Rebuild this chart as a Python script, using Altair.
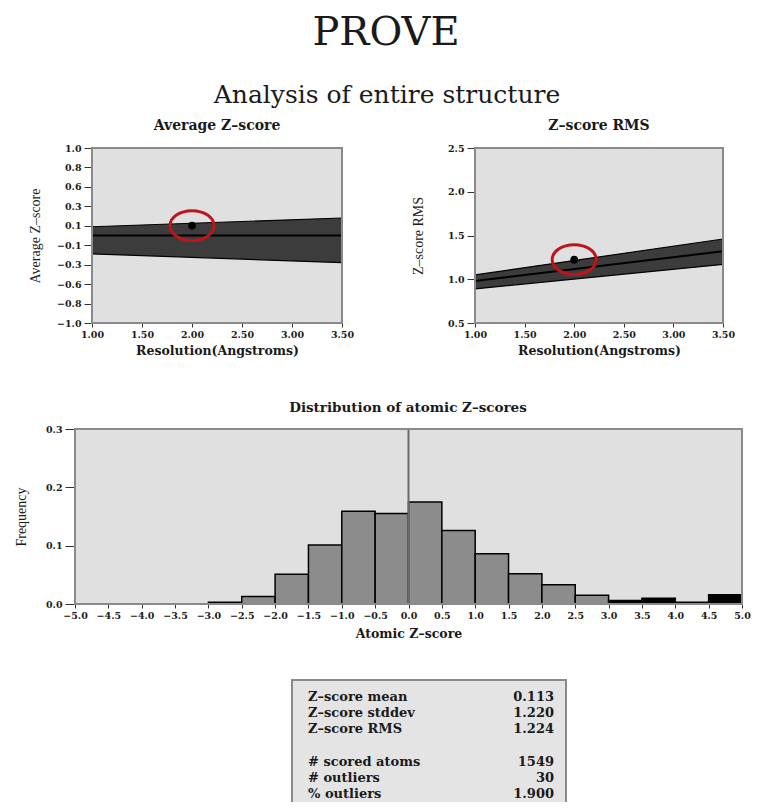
import altair as alt
import pandas as pd

FONT = "DejaVu Serif"
YFONT = "Liberation Serif"
W, H = 756, 794
BG = "#e0e0e0"
FRAME = "#8a8a8a"
BAND = "#3c3c3c"
INK = "#1a1a1a"
RED = "#c0141c"

# ---------------- data ----------------
res_ends = [1.0, 3.5]
avg_lower = [-0.21, -0.31]
avg_center = [0.0, 0.0]
avg_upper = [0.10, 0.20]
rms_lower = [0.89, 1.17]
rms_center = [0.98, 1.32]
rms_upper = [1.05, 1.46]
struct_res = [2.0]
struct_avg = [0.113]
struct_rms = [1.224]

res_ticks = [1.0, 1.5, 2.0, 2.5, 3.0, 3.5]
avg_ticks = [-1.0, -0.7778, -0.5556, -0.3333, -0.1111, 0.1111, 0.3333, 0.5556, 0.7778, 1.0]
rms_ticks = [0.5, 1.0, 1.5, 2.0, 2.5]

bin_starts = [-5.0, -4.5, -4.0, -3.5, -3.0, -2.5, -2.0, -1.5, -1.0, -0.5,
              0.0, 0.5, 1.0, 1.5, 2.0, 2.5, 3.0, 3.5, 4.0, 4.5]
bin_freqs = [0.0, 0.0, 0.0, 0.0, 0.003, 0.013, 0.051, 0.101, 0.159, 0.155,
             0.175, 0.126, 0.086, 0.052, 0.033, 0.015, 0.006, 0.010, 0.003, 0.016]
hist_ticks = [-5.0, -4.5, -4.0, -3.5, -3.0, -2.5, -2.0, -1.5, -1.0, -0.5, 0.0,
              0.5, 1.0, 1.5, 2.0, 2.5, 3.0, 3.5, 4.0, 4.5, 5.0]
freq_ticks = [0.0, 0.1, 0.2, 0.3]

stat_labels = ["Z–score mean", "Z–score stddev", "Z–score RMS", "",
               "# scored atoms", "# outliers", "% outliers"]
stat_values = ["0.113", "1.220", "1.224", "", "1549", "30", "1.900"]

ELLIPSE = ("M1,0 C1,0.3756 0.5523,0.68 0,0.68 C-0.5523,0.68 -1,0.3756 -1,0 "
           "C-1,-0.3756 -0.5523,-0.68 0,-0.68 C0.5523,-0.68 1,-0.3756 1,0 Z")


def make_axis(orient, offset, values, fmt, title, tfont, tsize, tweight, tick, lpad, tpad):
    return alt.Axis(orient=orient, offset=offset, values=values, format=fmt, title=title,
                    grid=False, domain=False, labelFlush=False, labelOverlap=False,
                    labelFont=FONT, labelFontSize=9.5, labelFontWeight="bold",
                    labelColor=INK,
                    tickColor="#333333", tickSize=tick, tickWidth=1, labelPadding=lpad,
                    titleFont=tfont, titleFontSize=tsize, titleFontWeight=tweight,
                    titleColor=INK, titlePadding=tpad)


def title_text(txt, x, y, size, weight):
    return alt.Chart(pd.DataFrame({"t": [txt]})).mark_text(
        font=FONT, fontSize=size, fontWeight=weight, color=INK,
        align="center", baseline="alphabetic").encode(
        text="t:N", x=alt.value(x), y=alt.value(y))


all_layers = []


def trend_panel(px, py, y_dom, y_ticks, y_title, y_tpad, lo, mid, hi, struct_y,
                title, title_x):
    xs = alt.Scale(domain=[res_ticks[0], res_ticks[-1]], range=px, nice=False, zero=False)
    ys = alt.Scale(domain=y_dom, range=[py[1], py[0]], nice=False, zero=False)
    frame_df = pd.DataFrame({"x0": [res_ticks[0]], "x1": [res_ticks[-1]],
                             "y0": [y_dom[0]], "y1": [y_dom[1]]})
    band_df = pd.DataFrame({"res": res_ends, "lo": lo, "mid": mid, "hi": hi})
    pt_df = pd.DataFrame({"res": struct_res, "z": struct_y})

    bg = alt.Chart(frame_df).mark_rect(fill=BG).encode(
        x=alt.X("x0:Q", scale=xs,
                axis=make_axis("bottom", py[1] - H, res_ticks, ".2f",
                               "Resolution(Angstroms)", FONT, 12.5, "bold", 4, 2, 6)),
        x2="x1:Q",
        y=alt.Y("y0:Q", scale=ys,
                axis=make_axis("left", -px[0], y_ticks, ".1f", y_title, YFONT, 14,
                               "normal", 8, 3, y_tpad)),
        y2="y1:Q")
    band = alt.Chart(band_df).mark_area(color=BAND, opacity=1).encode(
        x=alt.X("res:Q", scale=xs, axis=None),
        y=alt.Y("lo:Q", scale=ys, axis=None), y2="hi:Q")
    layers = [bg, band]
    for col, w in [("lo", 1.2), ("hi", 1.2), ("mid", 2)]:
        layers.append(alt.Chart(band_df).mark_line(color="#000000", strokeWidth=w).encode(
            x=alt.X("res:Q", scale=xs, axis=None),
            y=alt.Y(f"{col}:Q", scale=ys, axis=None)))
    frame = alt.Chart(frame_df).mark_rect(fillOpacity=0, stroke=FRAME, strokeWidth=2).encode(
        x=alt.X("x0:Q", scale=xs, axis=None), x2="x1:Q",
        y=alt.Y("y0:Q", scale=ys, axis=None), y2="y1:Q")
    dot = alt.Chart(pt_df).mark_circle(size=60, color="#000000", opacity=1).encode(
        x=alt.X("res:Q", scale=xs, axis=None), y=alt.Y("z:Q", scale=ys, axis=None))
    ring = alt.Chart(pt_df).mark_point(shape=ELLIPSE, size=1936, filled=False, color=RED,
                                       strokeWidth=3, opacity=1).encode(
        x=alt.X("res:Q", scale=xs, axis=None), y=alt.Y("z:Q", scale=ys, axis=None))
    layers += [frame, dot, ring, title_text(title, title_x, py[0] - 18, 14, "bold")]
    all_layers.extend(layers)


trend_panel([84, 334], [140, 315], [-1.0, 1.0], avg_ticks, "Average Z–score", 14,
            avg_lower, avg_center, avg_upper, struct_avg, "Average Z–score", 209)
trend_panel([467, 715], [140, 315], [0.5, 2.5], rms_ticks, "Z–score RMS", 22,
            rms_lower, rms_center, rms_upper, struct_rms, "Z–score RMS", 591)

# ---------------- histogram ----------------
hx = alt.Scale(domain=[hist_ticks[0], hist_ticks[-1]], range=[67, 734], nice=False, zero=False)
hy = alt.Scale(domain=[freq_ticks[0], freq_ticks[-1]], range=[596, 421], nice=False, zero=False)
hist_df = pd.DataFrame({"start": bin_starts, "freq": bin_freqs})
hframe_df = pd.DataFrame({"x0": [hist_ticks[0]], "x1": [hist_ticks[-1]],
                          "y0": [freq_ticks[0]], "y1": [freq_ticks[-1]]})

h_bg = alt.Chart(hframe_df).mark_rect(fill=BG).encode(
    x=alt.X("x0:Q", scale=hx,
            axis=make_axis("bottom", 596 - H, hist_ticks, ".1f", "Atomic Z–score",
                           FONT, 12.5, "bold", 4, 2, 8)),
    x2="x1:Q",
    y=alt.Y("y0:Q", scale=hy,
            axis=make_axis("left", -67, freq_ticks, ".1f", "Frequency", YFONT, 14,
                           "normal", 10, 3, 17)),
    y2="y1:Q")
h_bars = alt.Chart(hist_df).transform_filter("datum.freq > 0").transform_calculate(
    end="datum.start + 0.5",
    kind="abs(datum.start + 0.25) > 3 ? 'outlier' : 'normal'").mark_rect(
    stroke="#000000", strokeWidth=1.5).encode(
    x=alt.X("start:Q", scale=hx, axis=None), x2="end:Q",
    y=alt.Y("freq:Q", scale=hy, axis=None), y2=alt.datum(0),
    color=alt.Color("kind:N", scale=alt.Scale(domain=["normal", "outlier"],
                                              range=["#8c8c8c", "#000000"]), legend=None))
h_zero = alt.Chart(hframe_df).transform_calculate(zero="0").mark_rule(
    color="#6a6a6a", strokeWidth=2).encode(
    x=alt.X("zero:Q", scale=hx, axis=None),
    y=alt.Y("y0:Q", scale=hy, axis=None), y2="y1:Q")
h_frame = alt.Chart(hframe_df).mark_rect(fillOpacity=0, stroke=FRAME, strokeWidth=2).encode(
    x=alt.X("x0:Q", scale=hx, axis=None), x2="x1:Q",
    y=alt.Y("y0:Q", scale=hy, axis=None), y2="y1:Q")
all_layers += [h_bg, h_bars, h_zero, h_frame,
               title_text("Distribution of atomic Z–scores", 400, 404, 13.5, "bold")]

# ---------------- statistics table ----------------
stats_df = pd.DataFrame({"row": list(range(len(stat_labels))),
                         "label": stat_labels, "value": stat_values})
ty = alt.Scale(domain=[0, len(stat_labels) - 1], range=[689, 786], nice=False, zero=False)
box = alt.Chart(pd.DataFrame({"a": [0]})).mark_rect(
    fill="#e4e4e4", stroke=FRAME, strokeWidth=2).encode(
    x=alt.value(284), x2=alt.value(558), y=alt.value(672), y2=alt.value(H + 20))
tab_labels = alt.Chart(stats_df).mark_text(
    align="left", baseline="middle", font=FONT, fontSize=13, fontWeight="bold",
    color=INK).encode(x=alt.value(300), y=alt.Y("row:Q", scale=ty, axis=None), text="label:N")
tab_values = alt.Chart(stats_df).mark_text(
    align="right", baseline="middle", font=FONT, fontSize=13, fontWeight="bold",
    color=INK).encode(x=alt.value(546), y=alt.Y("row:Q", scale=ty, axis=None), text="value:N")
all_layers += [box, tab_labels, tab_values]

all_layers += [title_text("PROVE", 378, 37, 40, "normal"),
               title_text("Analysis of entire structure", 379, 95, 25, "normal")]

chart = alt.layer(*all_layers).resolve_scale(
    x="independent", y="independent", color="independent").resolve_axis(
    x="independent", y="independent").properties(
    width=W, height=H, autosize=alt.AutoSizeParams(type="none"), padding=0,
    background="white").configure_view(stroke="transparent")

chart.save("out.html", embed_options={"renderer": "svg", "actions": False})
